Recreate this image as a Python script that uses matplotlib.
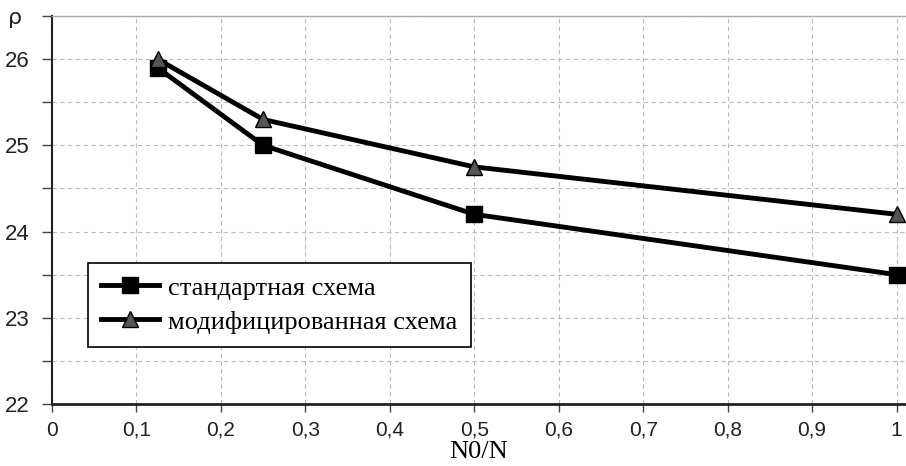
import numpy as np
import matplotlib.pyplot as plt
from matplotlib.ticker import MultipleLocator, FuncFormatter

# values
x_vals = [0.125, 0.25, 0.5, 1.0]
standard = [25.9, 25.0, 24.2, 23.5]
modified = [26.0, 25.3, 24.75, 24.2]
labels = ['стандартная схема', 'модифицированная схема']

plt.rcParams['font.family'] = ['Liberation Sans', 'DejaVu Sans']

fig = plt.figure(figsize=(9.06, 4.66), dpi=100)
ax = fig.add_axes([52 / 906, 1 - 404 / 466, 853 / 906, 388 / 466])

ax.plot(x_vals, standard, color='black', lw=3.5, marker='s', ms=11,
        mfc='black', mec='black', label=labels[0], zorder=3)
ax.plot(x_vals, modified, color='black', lw=3.5, marker='^', ms=11,
        mfc='#555555', mec='black', mew=1, label=labels[1], zorder=3)

ax.set_xlim(0, 1.01)
ax.set_ylim(22, 26.5)
ax.xaxis.set_major_locator(MultipleLocator(0.1))
ax.yaxis.set_major_locator(MultipleLocator(1))
ax.yaxis.set_minor_locator(MultipleLocator(0.5))

ax.xaxis.set_major_formatter(FuncFormatter(
    lambda v, p: ('%g' % round(v, 2)).replace('.', ',')))
ax.yaxis.set_major_formatter(FuncFormatter(lambda v, p: '%d' % v))

ax.grid(True, which='both', ls=(0, (4, 3)), color='#bbbbbb', lw=0.8)
ax.tick_params(axis='x', length=6, width=1, color='#444444', pad=6,
               labelsize=15, labelcolor='#222222')
ax.tick_params(axis='y', which='both', length=7, width=1, color='#444444',
               pad=9, labelsize=16, labelcolor='#222222')

ax.spines['bottom'].set_linewidth(2)
ax.spines['bottom'].set_color('#222222')
ax.spines['left'].set_linewidth(1.5)
ax.spines['left'].set_color('#222222')
ax.spines['top'].set_color('#aaaaaa')
ax.spines['top'].set_linewidth(1)
ax.spines['right'].set_visible(False)

ax.set_xlabel('N0/N', family='Liberation Serif', fontsize=19, labelpad=1)
fig.text(8 / 906, 1 - 24 / 466, 'ρ', family='DejaVu Sans', fontsize=16,
         color='#222222')

leg = ax.legend(loc='upper left', bbox_to_anchor=(36 / 853, (404 - 263) / 388),
                borderaxespad=0,
                prop={'family': 'Liberation Serif', 'size': 19},
                frameon=True, fancybox=False, edgecolor='black',
                handlelength=2.2, handletextpad=0.35, borderpad=0.5,
                labelspacing=0.4, framealpha=1)
leg.get_frame().set_linewidth(1.2)

fig.savefig('out.png', dpi=100)
